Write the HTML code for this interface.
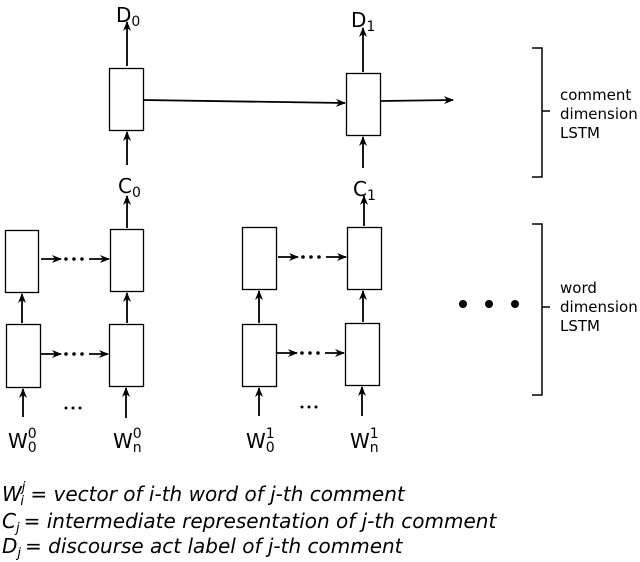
<!DOCTYPE html>
<html><head><meta charset="utf-8"><style>
html,body{margin:0;padding:0;background:#fff;}
svg{display:block;}
text{font-family:"DejaVu Sans","Liberation Sans",sans-serif;fill:#000;}
</style></head><body>
<svg width="640" height="562" viewBox="0 0 640 562" xmlns="http://www.w3.org/2000/svg">
<defs>
<marker id="a" markerWidth="10" markerHeight="8" refX="9" refY="4" orient="auto" markerUnits="userSpaceOnUse">
<path d="M0,0 L10,4 L0,8 L3,4 Z" fill="#000"/>
</marker>
</defs>
<g fill="#fff" stroke="#000" stroke-width="1.3">
<rect x="109.5" y="68.5" width="34" height="62"/>
<rect x="346.5" y="73.5" width="34" height="62"/>
<rect x="5.5" y="230.5" width="33" height="62"/>
<rect x="6.5" y="324.5" width="34" height="63"/>
<rect x="110.5" y="229.5" width="33" height="62"/>
<rect x="109.5" y="324.5" width="34" height="62"/>
<rect x="242.5" y="227.5" width="34" height="62"/>
<rect x="242.5" y="324.5" width="34" height="62"/>
<rect x="347.5" y="227.5" width="34" height="62"/>
<rect x="345.5" y="323.5" width="34" height="62"/>
</g>
<g stroke="#000" stroke-width="1.8" fill="none" marker-end="url(#a)">
<line x1="127" y1="66" x2="127" y2="22"/>
<line x1="363" y1="72" x2="363" y2="28"/>
<line x1="127" y1="165" x2="127" y2="132"/>
<line x1="127" y1="228" x2="127" y2="196"/>
<line x1="363" y1="168" x2="363" y2="137"/>
<line x1="364" y1="226" x2="364" y2="196"/>
<line x1="143" y1="100" x2="345" y2="103"/>
<line x1="381" y1="101" x2="453" y2="100"/>
<line x1="22" y1="323" x2="22" y2="294"/>
<line x1="127" y1="323" x2="127" y2="293"/>
<line x1="259" y1="323" x2="259" y2="291"/>
<line x1="363" y1="322" x2="363" y2="291"/>
<line x1="23" y1="417" x2="23" y2="389"/>
<line x1="126" y1="418" x2="126" y2="388"/>
<line x1="259" y1="416" x2="259" y2="388"/>
<line x1="362" y1="416" x2="362" y2="387"/>
<line x1="41" y1="259" x2="61" y2="259"/>
<line x1="89" y1="259" x2="109" y2="259"/>
<line x1="41" y1="354" x2="61" y2="354"/>
<line x1="89" y1="354" x2="108" y2="354"/>
<line x1="278" y1="257" x2="298" y2="257"/>
<line x1="326" y1="257" x2="346" y2="257"/>
<line x1="277" y1="353" x2="297" y2="353"/>
<line x1="325" y1="353" x2="344" y2="353"/>
</g>
<g fill="#000">
<circle cx="66" cy="259" r="1.8"/><circle cx="74" cy="259" r="1.8"/><circle cx="82" cy="259" r="1.8"/>
<circle cx="66" cy="354" r="1.8"/><circle cx="74" cy="354" r="1.8"/><circle cx="82" cy="354" r="1.8"/>
<circle cx="303" cy="257" r="1.8"/><circle cx="311" cy="257" r="1.8"/><circle cx="319" cy="257" r="1.8"/>
<circle cx="302" cy="353" r="1.8"/><circle cx="310" cy="353" r="1.8"/><circle cx="318" cy="353" r="1.8"/>
<circle cx="66" cy="408" r="1.5"/><circle cx="73" cy="408" r="1.5"/><circle cx="80" cy="408" r="1.5"/>
<circle cx="302" cy="407" r="1.5"/><circle cx="309" cy="407" r="1.5"/><circle cx="316" cy="407" r="1.5"/>
<circle cx="463" cy="304" r="4"/><circle cx="489" cy="304" r="4"/><circle cx="515" cy="304" r="4"/>
</g>
<g stroke="#000" stroke-width="1.5" fill="none">
<path d="M532,48 H542 V177 H532 M542,111 H550"/>
<path d="M532,224 H542 V395 H532 M542,307 H550"/>
</g>
<g font-size="20">
<text x="116" y="22">D<tspan font-size="14" dy="4">0</tspan></text>
<text x="351" y="27">D<tspan font-size="14" dy="4">1</tspan></text>
<text x="118" y="193">C<tspan font-size="14" dy="4">0</tspan></text>
<text x="353" y="196">C<tspan font-size="14" dy="4">1</tspan></text>
<text x="8" y="448">W<tspan font-size="14" dx="0" dy="-10">0</tspan><tspan font-size="14" dx="-9" dy="14">0</tspan></text>
<text x="113" y="448">W<tspan font-size="14" dy="-10">0</tspan><tspan font-size="14" dx="-9" dy="14">n</tspan></text>
<text x="246" y="448">W<tspan font-size="14" dy="-10">1</tspan><tspan font-size="14" dx="-9" dy="14">0</tspan></text>
<text x="350" y="448">W<tspan font-size="14" dy="-10">1</tspan><tspan font-size="14" dx="-9" dy="14">n</tspan></text>
</g>
<g font-size="15">
<text x="560" y="100">comment</text>
<text x="560" y="119">dimension</text>
<text x="560" y="138">LSTM</text>
<text x="560" y="293">word</text>
<text x="560" y="312">dimension</text>
<text x="560" y="331">LSTM</text>
</g>
<g font-size="20" font-style="italic">
<text x="2" y="501">W<tspan font-size="13" dy="-10">j</tspan><tspan font-size="13" dx="-5" dy="14">i</tspan><tspan dy="-4"> = vector of i-th word of j-th comment</tspan></text>
<text x="2" y="528">C<tspan font-size="13" dy="4">j</tspan><tspan dy="-4" dx="4">= intermediate representation of j-th comment</tspan></text>
<text x="2" y="553">D<tspan font-size="13" dy="4">j</tspan><tspan dy="-4" dx="4">= discourse act label of j-th comment</tspan></text>
</g>
</svg>
</body></html>
